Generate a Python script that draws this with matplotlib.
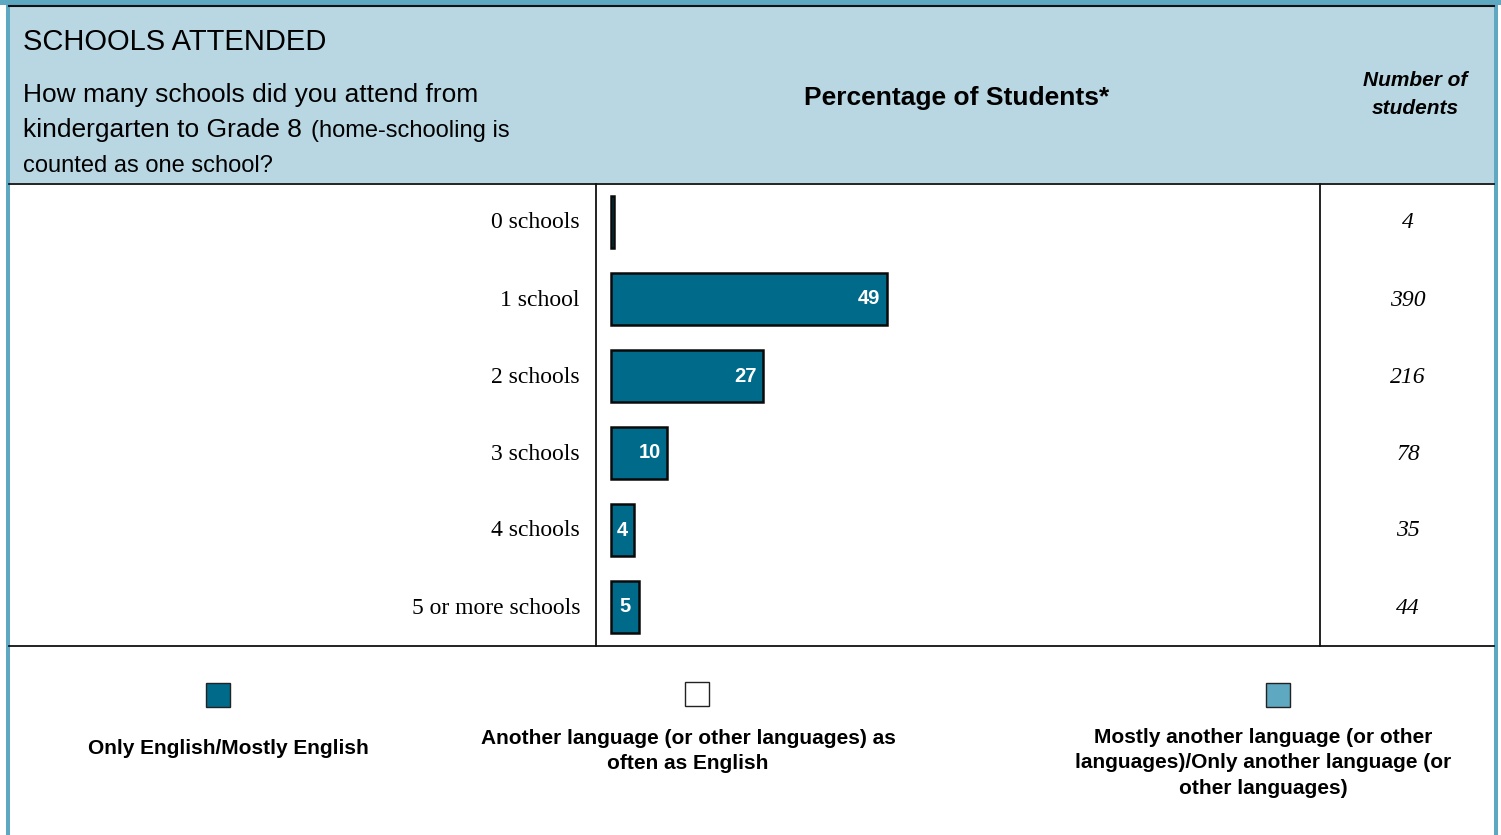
import matplotlib
matplotlib.use("Agg")
import matplotlib.pyplot as plt
from matplotlib.patches import Rectangle
from matplotlib.lines import Line2D

categories = ["0 schools", "1 school", "2 schools", "3 schools", "4 schools", "5 or more schools"]
percentages = [0.5, 49, 27, 10, 4, 5]
bar_labels = ["", "49", "27", "10", "4", "5"]
counts = ["4", "390", "216", "78", "35", "44"]
legend_labels = [
    "Only English/Mostly English",
    "Another language (or other languages) as\noften as English",
    "Mostly another language (or other\nlanguages)/Only another language (or\nother languages)",
]

BAR = "#006a8a"
LIGHT = "#5fa8c1"
HEADER = "#b9d7e3"
legend_colors = [BAR, "#ffffff", LIGHT]

W, H = 1501, 835
fig = plt.figure(figsize=(W / 100, H / 100), dpi=100)
fig.patch.set_facecolor("white")

def fx(px):
    return px / W

def fy(py):
    return 1 - py / H

SANS = "Liberation Sans"
SERIF = "Liberation Serif"

# header fill
fig.patches.append(Rectangle((fx(9), fy(183)), fx(1494) - fx(9), fy(5) - fy(183),
                             transform=fig.transFigure, facecolor=HEADER, edgecolor="none", zorder=0))
# outer blue border
fig.patches.append(Rectangle((0, fy(5)), 1, 1 - fy(5), transform=fig.transFigure,
                             facecolor=LIGHT, edgecolor="none", zorder=1))
fig.patches.append(Rectangle((fx(6), 0), fx(3.5), 1, transform=fig.transFigure,
                             facecolor=LIGHT, edgecolor="none", zorder=1))
fig.patches.append(Rectangle((fx(1494), 0), fx(3.5), 1, transform=fig.transFigure,
                             facecolor=LIGHT, edgecolor="none", zorder=1))

def hline(py, x0, x1, lw=1.3, color="#111111"):
    fig.lines.append(Line2D([fx(x0), fx(x1)], [fy(py), fy(py)], transform=fig.transFigure,
                            color=color, lw=lw, zorder=3))

def vline(px, y0, y1, lw=1.3, color="#111111"):
    fig.lines.append(Line2D([fx(px), fx(px)], [fy(y0), fy(y1)], transform=fig.transFigure,
                            color=color, lw=lw, zorder=3))

hline(5.5, 9, 1494, lw=1.5)
hline(183.5, 9, 1494)
hline(645.5, 9, 1494)
vline(596, 183.5, 645.5)
vline(1319.5, 183.5, 645.5)

# header texts
fig.text(fx(23), fy(41.5), "SCHOOLS ATTENDED", family=SANS, fontsize=21, va="center", ha="left")
fig.text(fx(23), fy(95), "How many schools did you attend from", family=SANS, fontsize=19,
         va="center", ha="left")
fig.text(fx(23), fy(130), "kindergarten to Grade 8", family=SANS, fontsize=19,
         va="center", ha="left")
fig.text(fx(311), fy(130.5), "(home-schooling is", family=SANS, fontsize=17, va="center", ha="left")
fig.text(fx(23), fy(165.5), "counted as one school?", family=SANS, fontsize=17, va="center", ha="left")
fig.text(fx(957), fy(98.5), "Percentage of Students*", family=SANS, fontsize=19, weight="bold",
         va="center", ha="center")
fig.text(fx(1415), fy(94.5), "Number of\nstudents", family=SANS, fontsize=15, weight="bold",
         style="italic", va="center", ha="center", linespacing=1.55)

# bar axes
ax = fig.add_axes([fx(596), fy(645.5), fx(1319.5) - fx(596), fy(183.5) - fy(645.5)])
ax.set_facecolor("none")
ax.set_xlim(-2.66, 125.7)
ax.set_ylim(len(categories) - 0.5, -0.5)
ypos = list(range(len(categories)))
ax.barh(ypos, percentages, height=0.68, color=BAR, edgecolor="#0a0a0a", linewidth=1.8, zorder=2)
for y, v, lab in zip(ypos, percentages, bar_labels):
    if not lab:
        continue
    if v >= 8:
        ax.text(v - 1.2, y, lab, ha="right", va="center", color="white", fontsize=14.5,
                weight="bold", family=SANS, zorder=4)
    else:
        ax.text(v / 2, y, lab, ha="center", va="center", color="white", fontsize=14.5,
                weight="bold", family=SANS, zorder=4)
ax.set_xticks([])
ax.set_yticks([])
for s in ax.spines.values():
    s.set_visible(False)

# category labels and counts
for y, cat, n in zip(ypos, categories, counts):
    yd = ax.transData.transform((0, y))[1]
    yf = fig.transFigure.inverted().transform((0, yd))[1] - 1.0 / H
    fig.text(fx(580), yf, cat, family=SERIF, fontsize=17, ha="right", va="center")
    fig.text(fx(1408), yf, n, family=SERIF, fontsize=17, style="italic", ha="center", va="center")

# legend
sq = 24
legend_sq = [(218, 695), (697, 694), (1278, 695)]
legend_txt = [(228, 748), (688, 751), (1263, 763)]
for (cx, cy), (tx, ty), lab, col in zip(legend_sq, legend_txt, legend_labels, legend_colors):
    fig.patches.append(Rectangle((fx(cx - sq / 2), fy(cy + sq / 2)), fx(sq), sq / H,
                                 transform=fig.transFigure, facecolor=col,
                                 edgecolor="#222222", linewidth=1.0, zorder=3))
    fig.text(fx(tx), fy(ty), lab, family=SANS, fontsize=15, weight="bold", ha="center",
             va="center", linespacing=1.45)

fig.savefig("out.png", dpi=100)
